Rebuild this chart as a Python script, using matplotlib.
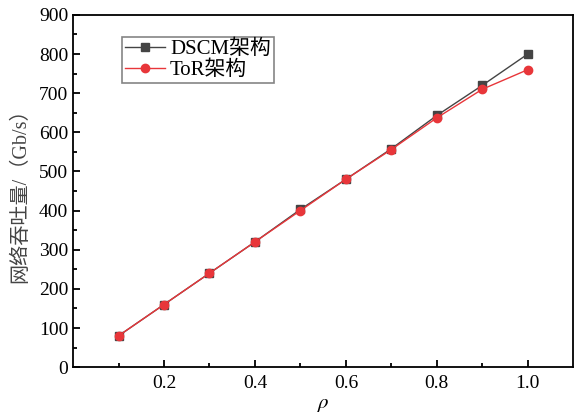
import matplotlib
matplotlib.use("Agg")
import matplotlib.pyplot as plt
from matplotlib.ticker import MultipleLocator, FixedLocator

plt.rcParams['font.family'] = ['Liberation Serif', 'Noto Sans CJK SC']
plt.rcParams['mathtext.fontset'] = 'stix'

rho = [0.1, 0.2, 0.3, 0.4, 0.5, 0.6, 0.7, 0.8, 0.9, 1.0]
dscm = [80, 160, 240, 320, 403, 480, 558, 643, 720, 800]
tor = [80, 160, 240, 320, 400, 480, 556, 637, 710, 760]

fig = plt.figure(figsize=(5.75, 4.13), dpi=100)
ax = fig.add_axes([0.127, 0.111, 0.87, 0.853])

ax.plot(rho, dscm, color='#444444', marker='s', markersize=5.5, linewidth=1.0, label='DSCM架构')
ax.plot(rho, tor, color='#e8363a', marker='o', markersize=6, linewidth=1.0, label='ToR架构')

ax.set_xlim(0, 1.1)
ax.set_ylim(0, 900)
ax.xaxis.set_major_locator(FixedLocator([0.2, 0.4, 0.6, 0.8, 1.0]))
ax.xaxis.set_minor_locator(FixedLocator([0.1, 0.3, 0.5, 0.7, 0.9]))
ax.yaxis.set_major_locator(MultipleLocator(100))
ax.yaxis.set_minor_locator(MultipleLocator(50))
ax.set_xticklabels(['0.2', '0.4', '0.6', '0.8', '1.0'])
ax.tick_params(which='both', direction='in', labelsize=14, width=1.3)
ax.tick_params(which='major', length=5)
ax.tick_params(which='minor', length=3)
ax.tick_params(axis='x', pad=6)
for s in ax.spines.values():
    s.set_linewidth(1.3)

ax.set_xlabel(r'$\rho$', fontsize=15, labelpad=2)
ax.set_ylabel('网络吞吐量/（Gb/s）', fontsize=14.5, color='#444444', labelpad=6,
              fontweight='light')

leg = ax.legend(loc='upper left', bbox_to_anchor=(0.098, 0.938), fontsize=15,
                frameon=True, fancybox=False, edgecolor='#666666',
                borderpad=0.15, labelspacing=0.05, handlelength=1.9, handletextpad=0.25,
                borderaxespad=0)
leg.get_frame().set_linewidth(1.2)

fig.savefig('out.png', dpi=100)
